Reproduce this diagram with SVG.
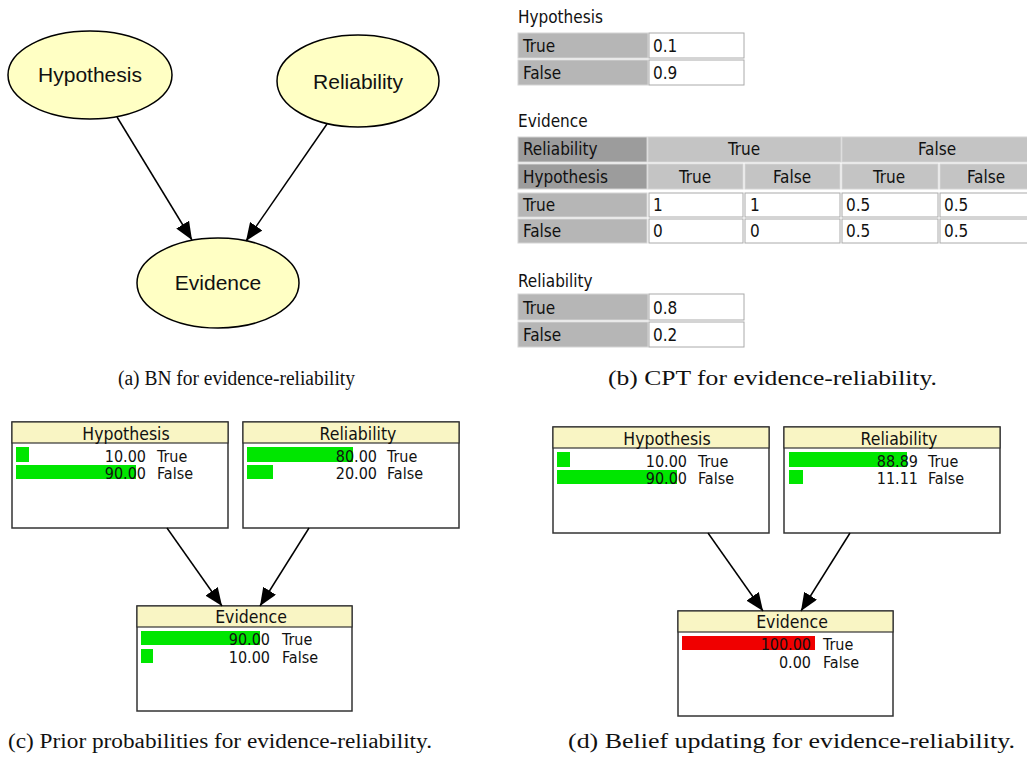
<svg xmlns="http://www.w3.org/2000/svg" width="1027" height="758" viewBox="0 0 1027 758">
<style>
.bn{fill:#ffffc4;stroke:#000;stroke-width:1.5}
.bnt{font-family:"Liberation Sans",Arial,sans-serif;font-size:21px;fill:#111;text-anchor:middle}
.tt{font-family:"DejaVu Sans Condensed","DejaVu Sans",sans-serif;font-size:17px;fill:#111}
.lab{fill:#b6b6b6;stroke:#d4d4d4;stroke-width:1}
.hdk{fill:#9c9c9c;stroke:#d4d4d4;stroke-width:1}
.hlt{fill:#c4c4c4;stroke:#d4d4d4;stroke-width:1}
.val{fill:#fff;stroke:#aaa;stroke-width:1}
.mid{text-anchor:middle}
.box{fill:#fff;stroke:#333;stroke-width:1.5}
.hdr{fill:#f9f5c4;stroke:#333;stroke-width:1.2}
.nt{font-family:"DejaVu Sans Condensed","DejaVu Sans",sans-serif;font-size:16px;fill:#111}
.hd{font-size:17.5px}
.num{text-anchor:end}
.g{fill:#00e600}
.r{fill:#f00000}
.cap{font-family:"Liberation Serif","Times New Roman",serif;font-size:20px;fill:#111}
.edge{stroke:#000;stroke-width:1.5;fill:none}
</style>
<defs>
<marker id="ah" markerUnits="userSpaceOnUse" markerWidth="19" markerHeight="15" viewBox="0 0 19 15" refX="18" refY="7.5" orient="auto">
<path d="M0,0 L18,7.5 L0,15 z" fill="#000"/>
</marker>
</defs>
<rect width="1027" height="758" fill="#fff"/>

<!-- Panel (a) -->
<g id="a-hypothesis"><ellipse class="bn" cx="90" cy="75" rx="82" ry="44"/><text class="bnt" x="90" y="82">Hypothesis</text></g>
<g id="a-reliability"><ellipse class="bn" cx="358" cy="81" rx="81" ry="46"/><text class="bnt" x="358" y="89">Reliability</text></g>
<g id="a-evidence"><ellipse class="bn" cx="218" cy="283" rx="81" ry="45"/><text class="bnt" x="218" y="290">Evidence</text></g>

<!-- Panel (b) -->
<g id="b-hypothesis">
<text class="tt" x="518" y="23">Hypothesis</text>
<rect class="lab" x="518" y="33" width="130" height="25"/><rect class="val" x="649" y="33" width="95" height="25"/>
<rect class="lab" x="518" y="60" width="130" height="25"/><rect class="val" x="649" y="60" width="95" height="25"/>
<text class="tt" x="523" y="52">True</text><text class="tt" x="653" y="52">0.1</text>
<text class="tt" x="523" y="79">False</text><text class="tt" x="653" y="79">0.9</text>
</g>
<g id="b-evidence">
<text class="tt" x="518" y="127">Evidence</text>
<rect class="hdk" x="518" y="137" width="129" height="25"/><rect class="hlt" x="648" y="137" width="193" height="25"/><rect class="hlt" x="842" y="137" width="190" height="25"/>
<rect class="hdk" x="518" y="164" width="129" height="25"/><rect class="hlt" x="648" y="164" width="95" height="25"/><rect class="hlt" x="745" y="164" width="95" height="25"/><rect class="hlt" x="842" y="164" width="96" height="25"/><rect class="hlt" x="940" y="164" width="92" height="25"/>
<rect class="lab" x="518" y="193" width="129" height="24"/><rect class="val" x="649" y="193" width="94" height="24"/><rect class="val" x="745" y="193" width="95" height="24"/><rect class="val" x="842" y="193" width="96" height="24"/><rect class="val" x="940" y="193" width="92" height="24"/>
<rect class="lab" x="518" y="219" width="129" height="24"/><rect class="val" x="649" y="219" width="94" height="24"/><rect class="val" x="745" y="219" width="95" height="24"/><rect class="val" x="842" y="219" width="96" height="24"/><rect class="val" x="940" y="219" width="92" height="24"/>
<text class="tt" x="523" y="155">Reliability</text><text class="tt mid" x="744" y="155">True</text><text class="tt mid" x="937" y="155">False</text>
<text class="tt" x="523" y="183">Hypothesis</text><text class="tt mid" x="695" y="183">True</text><text class="tt mid" x="792" y="183">False</text><text class="tt mid" x="889" y="183">True</text><text class="tt mid" x="986" y="183">False</text>
<text class="tt" x="523" y="211">True</text><text class="tt" x="653" y="211">1</text><text class="tt" x="750" y="211">1</text><text class="tt" x="846" y="211">0.5</text><text class="tt" x="944" y="211">0.5</text>
<text class="tt" x="523" y="237">False</text><text class="tt" x="653" y="237">0</text><text class="tt" x="750" y="237">0</text><text class="tt" x="846" y="237">0.5</text><text class="tt" x="944" y="237">0.5</text>
</g>
<g id="b-reliability">
<text class="tt" x="518" y="287">Reliability</text>
<rect class="lab" x="518" y="294" width="130" height="26"/><rect class="val" x="649" y="294" width="95" height="26"/>
<rect class="lab" x="518" y="322" width="130" height="25"/><rect class="val" x="649" y="322" width="95" height="25"/>
<text class="tt" x="523" y="314">True</text><text class="tt" x="653" y="314">0.8</text>
<text class="tt" x="523" y="341">False</text><text class="tt" x="653" y="341">0.2</text>
</g>

<!-- Panel (c) -->
<g id="c-hypothesis">
<rect class="box" x="12" y="422" width="216" height="106"/><rect class="hdr" x="12" y="422" width="216" height="21"/>
<text class="nt hd mid" x="126" y="440">Hypothesis</text>
<rect class="g" x="16" y="447" width="13" height="15"/><rect class="g" x="16" y="465" width="120" height="14"/>
<text class="nt num" x="146" y="462">10.00</text><text class="nt" x="157" y="462">True</text>
<text class="nt num" x="146" y="479">90.00</text><text class="nt" x="157" y="479">False</text>
</g>
<g id="c-reliability">
<rect class="box" x="243" y="422" width="216" height="106"/><rect class="hdr" x="243" y="422" width="216" height="21"/>
<text class="nt hd mid" x="358" y="440">Reliability</text>
<rect class="g" x="247" y="447" width="106" height="15"/><rect class="g" x="247" y="465" width="26" height="14"/>
<text class="nt num" x="377" y="462">80.00</text><text class="nt" x="387" y="462">True</text>
<text class="nt num" x="377" y="479">20.00</text><text class="nt" x="387" y="479">False</text>
</g>
<g id="c-evidence">
<rect class="box" x="137" y="606" width="215" height="105"/><rect class="hdr" x="137" y="606" width="215" height="21"/>
<text class="nt hd mid" x="251" y="623">Evidence</text>
<rect class="g" x="141" y="631" width="119" height="14"/><rect class="g" x="141" y="649" width="12" height="14"/>
<text class="nt num" x="270" y="645">90.00</text><text class="nt" x="282" y="645">True</text>
<text class="nt num" x="270" y="663">10.00</text><text class="nt" x="282" y="663">False</text>
</g>

<!-- Panel (d) -->
<g id="d-hypothesis">
<rect class="box" x="553" y="427" width="216" height="106"/><rect class="hdr" x="553" y="427" width="216" height="21"/>
<text class="nt hd mid" x="667" y="445">Hypothesis</text>
<rect class="g" x="557" y="452" width="13" height="15"/><rect class="g" x="557" y="470" width="120" height="14"/>
<text class="nt num" x="687" y="467">10.00</text><text class="nt" x="698" y="467">True</text>
<text class="nt num" x="687" y="484">90.00</text><text class="nt" x="698" y="484">False</text>
</g>
<g id="d-reliability">
<rect class="box" x="784" y="427" width="216" height="106"/><rect class="hdr" x="784" y="427" width="216" height="21"/>
<text class="nt hd mid" x="899" y="445">Reliability</text>
<rect class="g" x="789" y="452" width="118" height="15"/><rect class="g" x="789" y="470" width="14" height="14"/>
<text class="nt num" x="918" y="467">88.89</text><text class="nt" x="928" y="467">True</text>
<text class="nt num" x="918" y="484">11.11</text><text class="nt" x="928" y="484">False</text>
</g>
<g id="d-evidence">
<rect class="box" x="678" y="611" width="215" height="105"/><rect class="hdr" x="678" y="611" width="215" height="21"/>
<text class="nt hd mid" x="792" y="628">Evidence</text>
<rect class="r" x="682" y="636" width="133" height="14"/>
<text class="nt num" x="811" y="650">100.00</text><text class="nt" x="823" y="650">True</text>
<text class="nt num" x="811" y="668">0.00</text><text class="nt" x="823" y="668">False</text>
</g>

<g id="connectors">
<line class="edge" x1="117" y1="117" x2="192" y2="240" marker-end="url(#ah)"/>
<line class="edge" x1="327" y1="124" x2="246" y2="241" marker-end="url(#ah)"/>
<line class="edge" x1="167" y1="528" x2="222" y2="606" marker-end="url(#ah)"/>
<line class="edge" x1="309" y1="528" x2="260" y2="606" marker-end="url(#ah)"/>
<line class="edge" x1="708" y1="533" x2="763" y2="611" marker-end="url(#ah)"/>
<line class="edge" x1="850" y1="533" x2="801" y2="611" marker-end="url(#ah)"/>
</g>

<g id="captions">
<text class="cap" x="118" y="385" textLength="237" lengthAdjust="spacingAndGlyphs">(a) BN for evidence-reliability</text>
<text class="cap" x="608" y="385" textLength="329" lengthAdjust="spacingAndGlyphs">(b) CPT for evidence-reliability.</text>
<text class="cap" x="8" y="748" textLength="424" lengthAdjust="spacingAndGlyphs">(c) Prior probabilities for evidence-reliability.</text>
<text class="cap" x="568" y="748" textLength="447" lengthAdjust="spacingAndGlyphs">(d) Belief updating for evidence-reliability.</text>
</g>
</svg>
